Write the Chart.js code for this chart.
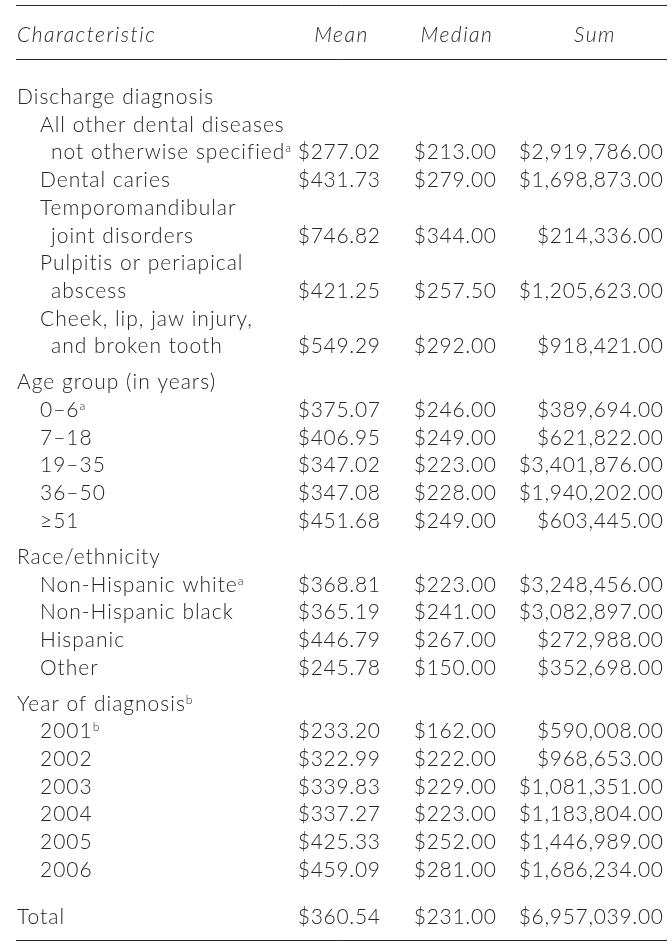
<!DOCTYPE html>
<html>
<head>
<meta charset="utf-8">
<script src="https://cdn.jsdelivr.net/npm/chart.js@4.4.1/dist/chart.umd.min.js"></script>
<style>
  html, body { margin: 0; padding: 0; background: #fff; }
  #wrap { width: 671px; height: 945px; }
</style>
</head>
<body>
<div id="wrap"><canvas id="myTable" width="671" height="945"></canvas></div>
<script>
const columnTitles = ['Characteristic', 'Mean', 'Median', 'Sum'];
const groupNames = ['Discharge diagnosis', 'Age group (in years)', 'Race/ethnicity', 'Year of diagnosis'];
const groupNotes = ['', '', '', 'b'];

const rowLabels = [
  ['All other dental diseases', 'not otherwise specified'],
  ['Dental caries'],
  ['Temporomandibular', 'joint disorders'],
  ['Pulpitis or periapical', 'abscess'],
  ['Cheek, lip, jaw injury,', 'and broken tooth'],
  ['0–6'], ['7–18'], ['19–35'], ['36–50'], ['≥51'],
  ['Non-Hispanic white'], ['Non-Hispanic black'], ['Hispanic'], ['Other'],
  ['2001'], ['2002'], ['2003'], ['2004'], ['2005'], ['2006']
];
const rowGroup = [0, 0, 0, 0, 0, 1, 1, 1, 1, 1, 2, 2, 2, 2, 3, 3, 3, 3, 3, 3];
const rowNotes = ['a', '', '', '', '', 'a', '', '', '', '', 'a', '', '', '', 'b', '', '', '', '', ''];

const meanValues = [277.02, 431.73, 746.82, 421.25, 549.29, 375.07, 406.95, 347.02, 347.08, 451.68,
  368.81, 365.19, 446.79, 245.78, 233.20, 322.99, 339.83, 337.27, 425.33, 459.09];
const medianValues = [213.00, 279.00, 344.00, 257.50, 292.00, 246.00, 249.00, 223.00, 228.00, 249.00,
  223.00, 241.00, 267.00, 150.00, 162.00, 222.00, 229.00, 223.00, 252.00, 281.00];
const sumValues = [2919786, 1698873, 214336, 1205623, 918421, 389694, 621822, 3401876, 1940202, 603445,
  3248456, 3082897, 272988, 352698, 590008, 968653, 1081351, 1183804, 1446989, 1686234];
const totalLabel = 'Total';
const totalValues = [360.54, 231.00, 6957039.00];

// layout: x in pixels, y in "text lines" (header line = 0)
const FONT = 'Lato, "Open Sans", sans-serif';
const INK = '#262624';
const colRight = [380, 496, 663];
const colHeadCenter = [341.5, 457, 595];
const lineGap = 27.7, firstBase = 42;
const groupStart = 2.24, groupGap = 1.3, totalGap = 1.7;

// line positions for each group title / row
const groupPos = [];
const rowPos = [];
let pos = groupStart;
groupNames.forEach((g, gi) => {
  if (gi > 0) pos += groupGap;
  groupPos.push(pos);
  rowGroup.forEach((rg, ri) => {
    if (rg !== gi) return;
    pos += rowLabels[ri].length;
    rowPos.push(pos);   // values sit on last label line
  });
});
const totalPos = pos + totalGap;
const rules = [-1.336, 0.614, 32.42];

const money = v => '$' + v.toLocaleString('en-US', { minimumFractionDigits: 2, maximumFractionDigits: 2 });

const seriesPoints = (vals, col) => vals.map((v, i) => ({ x: colRight[col], y: rowPos[i], v }))
  .concat([{ x: colRight[col], y: totalPos, v: totalValues[col] }]);

const tablePlugin = {
  id: 'tableText',
  afterDatasetsDraw(chart) {
    const ctx = chart.ctx;
    const xs = chart.scales.x, ys = chart.scales.y;
    const Y = v => ys.getPixelForValue(v);
    ctx.save();
    ctx.fillStyle = INK;
    ctx.strokeStyle = INK;
    ctx.lineWidth = 1;

    // horizontal rules
    rules.forEach(r => {
      const y = Math.round(Y(r)) + 0.5;
      ctx.beginPath();
      ctx.moveTo(xs.getPixelForValue(16), y);
      ctx.lineTo(xs.getPixelForValue(667), y);
      ctx.stroke();
    });

    // header
    ctx.font = 'italic 300 21px ' + FONT;
    ctx.letterSpacing = '1.5px';
    ctx.textBaseline = 'alphabetic';
    ctx.textAlign = 'left';
    ctx.fillText(columnTitles[0], xs.getPixelForValue(17), Y(0));
    ctx.textAlign = 'center';
    for (let c = 1; c < 4; c++) ctx.fillText(columnTitles[c], xs.getPixelForValue(colHeadCenter[c - 1]), Y(0));

    const withNote = (text, note, x, y) => {
      ctx.font = '300 21px ' + FONT;
      ctx.letterSpacing = '1px';
      ctx.textAlign = 'left';
      ctx.fillText(text, x, y);
      if (note) {
        const w = ctx.measureText(text).width;
        ctx.font = '300 12px ' + FONT;
        ctx.letterSpacing = '0px';
        ctx.fillText(note, x + w, y - 7);
      }
    };

    // group titles
    groupNames.forEach((g, gi) => withNote(g, groupNotes[gi], xs.getPixelForValue(17), Y(groupPos[gi])));

    // row labels
    rowLabels.forEach((lines, ri) => {
      const last = lines.length - 1;
      lines.forEach((t, li) => {
        const x = xs.getPixelForValue(li === 0 ? 40 : 51);
        withNote(t, li === last ? rowNotes[ri] : '', x, Y(rowPos[ri] - (last - li)));
      });
    });
    withNote(totalLabel, '', xs.getPixelForValue(17), Y(totalPos));

    // values from dataset points
    ctx.font = '300 21px ' + FONT;
    ctx.letterSpacing = '0.7px';
    ctx.textAlign = 'right';
    chart.data.datasets.forEach((ds, di) => {
      chart.getDatasetMeta(di).data.forEach((el, i) => {
        ctx.fillText(money(ds.data[i].v), el.x + 0.7, el.y);
      });
    });
    ctx.restore();
  }
};

new Chart(document.getElementById('myTable'), {
  type: 'scatter',
  data: {
    datasets: [
      { label: 'Mean', data: seriesPoints(meanValues, 0) },
      { label: 'Median', data: seriesPoints(medianValues, 1) },
      { label: 'Sum', data: seriesPoints(sumValues, 2) }
    ]
  },
  options: {
    responsive: false,
    animation: false,
    events: [],
    layout: { padding: 0 },
    elements: { point: { radius: 0, hoverRadius: 0 } },
    plugins: { legend: { display: false }, tooltip: { enabled: false } },
    scales: {
      x: { type: 'linear', display: false, min: 0, max: 671 },
      y: { type: 'linear', display: false, reverse: true,
           min: -firstBase / lineGap, max: (945 - firstBase) / lineGap }
    }
  },
  plugins: [tablePlugin]
});
</script>
</body>
</html>
